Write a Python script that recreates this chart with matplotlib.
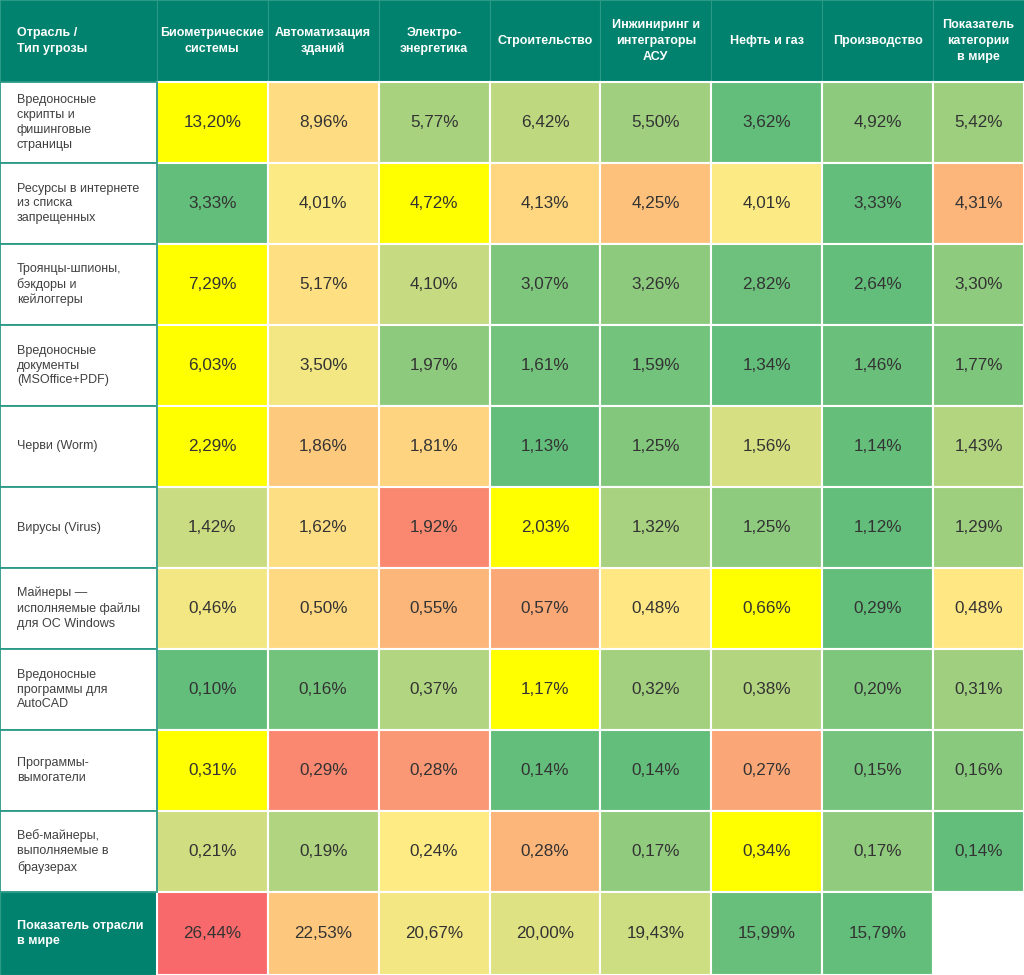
import matplotlib
matplotlib.use('Agg')
import matplotlib.pyplot as plt
import numpy as np
from matplotlib.patches import Rectangle
from matplotlib.colors import LinearSegmentedColormap, Normalize

plt.rcParams['font.family'] = ['Liberation Sans', 'DejaVu Sans']

corner_label = 'Отрасль /\nТип угрозы'
industries = ['Биометрические\nсистемы', 'Автоматизация\nзданий', 'Электро-\nэнергетика',
              'Строительство', 'Инжиниринг и\nинтеграторы\nАСУ', 'Нефть и газ',
              'Производство', 'Показатель\nкатегории\nв мире']
threats = ['Вредоносные\nскрипты и\nфишинговые\nстраницы',
           'Ресурсы в интернете\nиз списка\nзапрещенных',
           'Троянцы-шпионы,\nбэкдоры и\nкейлоггеры',
           'Вредоносные\nдокументы\n(MSOffice+PDF)',
           'Черви (Worm)',
           'Вирусы (Virus)',
           'Майнеры —\nисполняемые файлы\nдля ОС Windows',
           'Вредоносные\nпрограммы для\nAutoCAD',
           'Программы-\nвымогатели',
           'Веб-майнеры,\nвыполняемые в\nбраузерах']
values = [
    [13.20, 8.96, 5.77, 6.42, 5.50, 3.62, 4.92, 5.42],
    [3.33, 4.01, 4.72, 4.13, 4.25, 4.01, 3.33, 4.31],
    [7.29, 5.17, 4.10, 3.07, 3.26, 2.82, 2.64, 3.30],
    [6.03, 3.50, 1.97, 1.61, 1.59, 1.34, 1.46, 1.77],
    [2.29, 1.86, 1.81, 1.13, 1.25, 1.56, 1.14, 1.43],
    [1.42, 1.62, 1.92, 2.03, 1.32, 1.25, 1.12, 1.29],
    [0.46, 0.50, 0.55, 0.57, 0.48, 0.66, 0.29, 0.48],
    [0.10, 0.16, 0.37, 1.17, 0.32, 0.38, 0.20, 0.31],
    [0.31, 0.29, 0.28, 0.14, 0.14, 0.27, 0.15, 0.16],
    [0.21, 0.19, 0.24, 0.28, 0.17, 0.34, 0.17, 0.14],
]
total_label = 'Показатель отрасли\nв мире'
industry_totals = [26.44, 22.53, 20.67, 20.00, 19.43, 15.99, 15.79]

TEAL = '#00826e'
TEAL_LINE = '#2a9a86'
TEXT = '#333333'
cmap = LinearSegmentedColormap.from_list('gyr', ['#63be7b', '#ffeb84', '#f8696b'])

# layout in pixels
col_w = [157] + [111] * 7 + [91]
x_edges = np.concatenate([[0], np.cumsum(col_w)])
row_h = [82] + [81] * 10 + [83]
y_edges = np.concatenate([[0], np.cumsum(row_h)])
W, H = x_edges[-1], y_edges[-1]


def fmt(v):
    return f'{v:.2f}%'.replace('.', ',')


fig = plt.figure(figsize=(10.24, 9.75), dpi=100)
ax = fig.add_axes([0, 0, 1, 1])
ax.set_xlim(0, W)
ax.set_ylim(H, 0)
ax.axis('off')


def cell(ci, ri, color, ec, lw):
    x0, x1 = x_edges[ci], x_edges[ci + 1]
    y0, y1 = y_edges[ri], y_edges[ri + 1]
    ax.add_patch(Rectangle((x0, y0), x1 - x0, y1 - y0, facecolor=color,
                           edgecolor=ec, linewidth=lw))
    return (x0 + x1) / 2, (y0 + y1) / 2


# header row
cx, cy = cell(0, 0, TEAL, TEAL_LINE, 0.8)
ax.text(17, cy, corner_label, ha='left', va='center', color='white',
        fontsize=9, fontweight='bold', linespacing=1.4)
for j, name in enumerate(industries):
    cx, cy = cell(j + 1, 0, TEAL, TEAL_LINE, 0.8)
    ax.text(cx, cy, name, ha='center', va='center', color='white',
            fontsize=9, fontweight='bold', linespacing=1.4, multialignment='center')

# threat rows
for i, (name, row) in enumerate(zip(threats, values)):
    r = i + 1
    cx, cy = cell(0, r, 'white', TEAL_LINE, 1.3)
    ax.text(17, cy, name, ha='left', va='center', color='#404040',
            fontsize=9, linespacing=1.33)
    norm = Normalize(min(row), max(row))
    top = int(np.argmax(row))
    for j, v in enumerate(row):
        color = '#ffff00' if j == top else cmap(norm(v))
        cx, cy = cell(j + 1, r, color, 'white', 1.5)
        ax.text(cx, cy, fmt(v), ha='center', va='center', color=TEXT, fontsize=12.3)

# industry totals row
r = len(threats) + 1
cx, cy = cell(0, r, TEAL, TEAL_LINE, 1.0)
ax.text(17, cy, total_label, ha='left', va='center', color='white',
        fontsize=9, fontweight='bold', linespacing=1.33)
norm = Normalize(min(industry_totals), max(industry_totals))
for j, v in enumerate(industry_totals):
    cx, cy = cell(j + 1, r, cmap(norm(v)), 'white', 1.5)
    ax.text(cx, cy, fmt(v), ha='center', va='center', color=TEXT, fontsize=12.3)
cell(len(industries), r, 'white', 'white', 1.5)

# divider between label column and data
ax.plot([x_edges[1], x_edges[1]], [y_edges[1], y_edges[-2]], color=TEAL_LINE, lw=1.3)

fig.savefig('out.png', dpi=100)
